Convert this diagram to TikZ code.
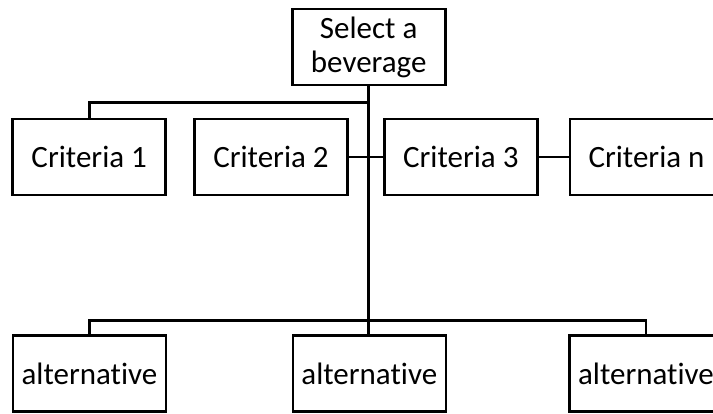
\documentclass[tikz,border=0pt]{standalone}
\usepackage{fontspec}
\setmainfont[Ligatures=NoCommon]{Carlito}
\begin{document}
\begin{tikzpicture}[x=1pt,y=-1pt,
  box/.style={draw=black,line width=2.6pt,fill=white,minimum width=153pt,minimum height=76pt,
    inner sep=0pt,align=center,font=\fontsize{31}{34}\selectfont},
  link/.style={draw=black,line width=2.6pt},
  trunk/.style={draw=black,line width=3pt}]
\clip (0,0) rectangle (713,414);
\fill[white] (0,0) rectangle (713,414);

% goal
\node[box] (goal) at (368.7,47.2) {Select a\\beverage};

% criteria row
\node[box] (c1) at (89.2,157) {Criteria 1};
\node[box] (c2) at (271,157) {Criteria 2};
\node[box] (c3) at (460.8,157) {Criteria 3};
\node[box] (cn) at (646.5,157) {Criteria n};

% alternatives row
\node[box] (a1) at (89.5,373.7) {alternative};
\node[box] (a2) at (369.3,373.4) {alternative};
\node[box] (a3) at (646,373.4) {alternative};

% bus junctions
\coordinate (topbus) at (goal.south |- 0,102.5);
\coordinate (lowbus) at (goal.south |- 0,320.5);

% main vertical line from goal to the middle alternative
\draw[trunk] (goal.south) -- (goal.south |- a2.north);

% goal to first criterion
\draw[link] (topbus) -| (c1.north);

% criteria chain
\draw[link] (c2.east) -- (c3.west);
\draw[link] (c3.east) -- (cn.west);

% alternatives bus
\draw[link] (a1.north) |- (lowbus) -| (a3.north);
\end{tikzpicture}
\end{document}
